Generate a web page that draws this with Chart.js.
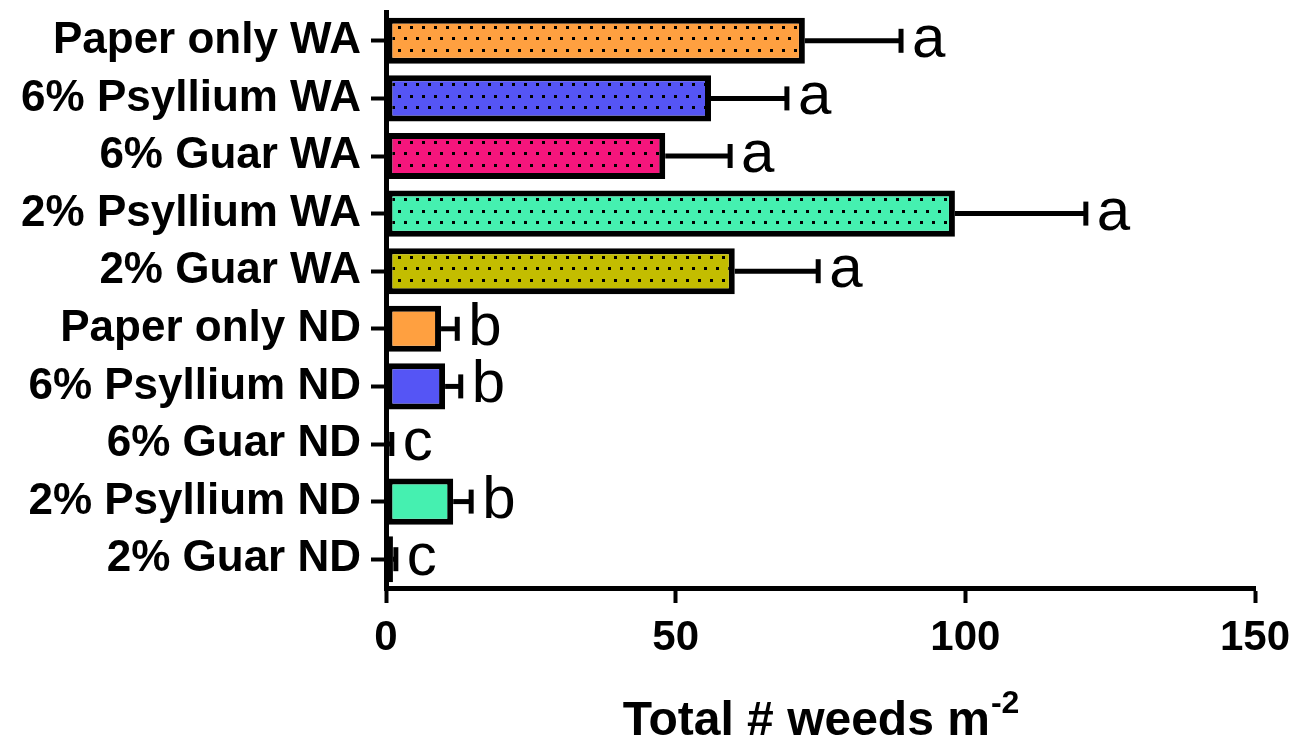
<!DOCTYPE html>
<html>
<head>
<meta charset="utf-8">
<script src="https://cdn.jsdelivr.net/npm/chart.js@4"></script>
<style>
  html, body { margin: 0; padding: 0; background: #fff; }
  #wrap { width: 1301px; height: 739px; position: relative; }
</style>
</head>
<body>
<div id="wrap"><canvas id="myChart" width="1301" height="739"></canvas></div>
<script>
// chart values
const categories = [
  "Paper only WA",
  "6% Psyllium WA",
  "6% Guar WA",
  "2% Psyllium WA",
  "2% Guar WA",
  "Paper only ND",
  "6% Psyllium ND",
  "6% Guar ND",
  "2% Psyllium ND",
  "2% Guar ND",
];
const meanWeeds = [72.3, 56.1, 48.2, 98.2, 60.2, 9.5, 10.2, 0.5, 11.6, 1.2];
const errWeeds = [16.6, 13.1, 11.2, 22.6, 14.4, 2.8, 2.7, 0.5, 3.1, 0.5];
const letters = ["a", "a", "a", "a", "a", "b", "b", "c", "b", "c"];
const dotted = [true, true, true, true, true, false, false, false, false, false];
const xTicks = [0, 50, 100, 150];

const colorFor = {
  "Paper only": "#ffa040",
  "6% Psyllium": "#5555f5",
  "6% Guar": "#f5167c",
  "2% Psyllium": "#45f0b0",
  "2% Guar": "#c3bd00",
};

function makeDots(color) {
  const tile = document.createElement("canvas");
  tile.width = 12;
  tile.height = 23;
  const t = tile.getContext("2d");
  t.fillStyle = color;
  t.fillRect(0, 0, 12, 23);
  t.fillStyle = "#000";
  t.fillRect(2, 3, 3, 3);
  t.fillRect(8, 14, 3, 3);
  return document.getElementById("myChart").getContext("2d").createPattern(tile, "repeat");
}

const fills = categories.map((c, i) => {
  const base = colorFor[c.replace(/ (WA|ND)$/, "")];
  return dotted[i] ? makeDots(base) : base;
});

// error bars + significance letters
const errorBars = {
  id: "errorBars",
  afterDatasetsDraw(chart) {
    const { ctx, scales } = chart;
    const x = scales.x, y = scales.y;
    ctx.save();
    ctx.strokeStyle = "#000";
    ctx.fillStyle = "#000";
    meanWeeds.forEach((v, i) => {
      const yc = y.getPixelForValue(i);
      const x0 = x.getPixelForValue(v);
      const x1 = x.getPixelForValue(v + errWeeds[i]);
      ctx.lineWidth = 5;
      ctx.beginPath();
      ctx.moveTo(x0, yc);
      ctx.lineTo(x1, yc);
      ctx.stroke();
      ctx.lineWidth = 5;
      ctx.beginPath();
      ctx.moveTo(x1, yc - 12);
      ctx.lineTo(x1, yc + 12);
      ctx.stroke();
      ctx.font = "60px 'Liberation Sans', Arial, sans-serif";
      ctx.textAlign = "left";
      ctx.textBaseline = "alphabetic";
      ctx.fillText(letters[i], x1 + 11, yc + 16);
    });
    // axis title with superscript
    const main = "Total # weeds m";
    const sup = "-2";
    ctx.font = "bold 48px 'Liberation Sans', Arial, sans-serif";
    const w1 = ctx.measureText(main).width;
    ctx.font = "bold 32px 'Liberation Sans', Arial, sans-serif";
    const w2 = ctx.measureText(sup).width;
    const cx = (chart.chartArea.left + chart.chartArea.right) / 2;
    const start = cx - (w1 + w2) / 2;
    const base = 735;
    ctx.font = "bold 48px 'Liberation Sans', Arial, sans-serif";
    ctx.fillText(main, start, base);
    ctx.font = "bold 32px 'Liberation Sans', Arial, sans-serif";
    ctx.fillText(sup, start + w1 + 1, base - 22);
    ctx.restore();
  },
};

new Chart(document.getElementById("myChart"), {
  type: "bar",
  data: {
    labels: categories,
    datasets: [
      {
        data: meanWeeds,
        backgroundColor: fills,
        borderColor: "#000",
        borderWidth: 6,
        borderSkipped: false,
        barPercentage: 0.8,
        categoryPercentage: 1,
      },
    ],
  },
  options: {
    indexAxis: "y",
    responsive: false,
    animation: false,
    layout: { padding: { top: 12, right: 46, bottom: 0, left: 0 } },
    plugins: { legend: { display: false }, tooltip: { enabled: false } },
    scales: {
      x: {
        min: 0,
        max: 150,
        afterBuildTicks: (scale) => {
          scale.ticks = xTicks.map((v) => ({ value: v }));
        },
        afterFit: (scale) => { scale.height = 151; },
        grid: { drawOnChartArea: false, tickLength: 15, tickWidth: 4, tickColor: "#000" },
        border: { display: true, width: 5, color: "#000" },
        ticks: {
          color: "#000",
          padding: 10,
          font: { family: "'Liberation Sans', Arial, sans-serif", size: 42, weight: "bold" },
        },
      },
      y: {
        afterFit: (scale) => {
          scale.width = 386;
          scale.paddingTop = 0;
          scale.paddingBottom = 0;
        },
        grid: { offset: false, drawOnChartArea: false, tickLength: 15, tickWidth: 4, tickColor: "#000" },
        border: { display: true, width: 5, color: "#000" },
        ticks: {
          color: "#000",
          padding: 10,
          font: { family: "'Liberation Sans', Arial, sans-serif", size: 44, weight: "bold" },
        },
      },
    },
  },
  plugins: [errorBars],
});
</script>
</body>
</html>
